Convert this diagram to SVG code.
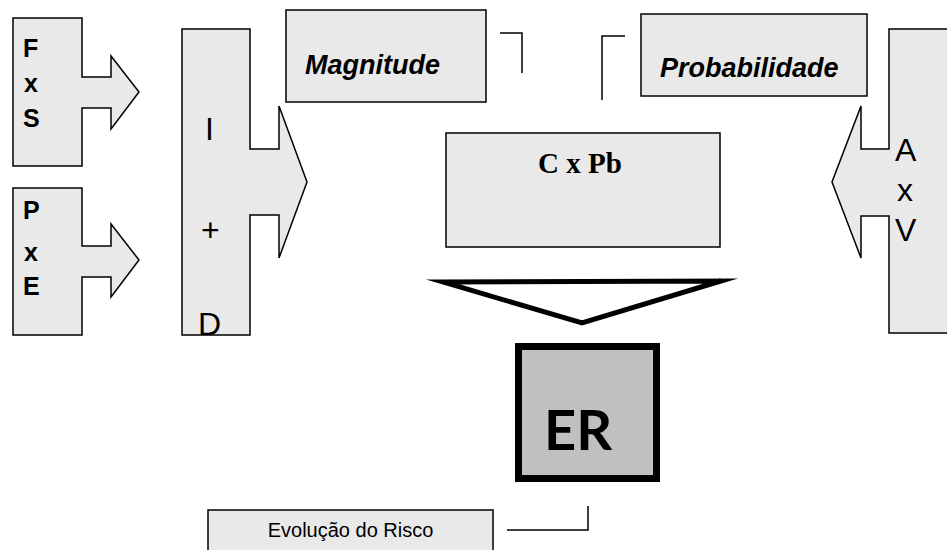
<svg xmlns="http://www.w3.org/2000/svg" width="947" height="550" viewBox="0 0 947 550">
<style>
.shp{fill:#e9e9e9;stroke:#000;stroke-width:1.5;stroke-linejoin:miter}
.ln{fill:none;stroke:#000;stroke-width:1.5}
.lb{font-family:"Liberation Sans",Arial,sans-serif;font-weight:bold;font-size:25px;fill:#000}
.lr{font-family:"Liberation Sans",Arial,sans-serif;font-size:32px;fill:#000}
.it{font-family:"Liberation Sans",Arial,sans-serif;font-weight:bold;font-style:italic;font-size:27px;fill:#000}
</style>
<rect width="947" height="550" fill="#fff"/>
<g id="fxs">
<polygon class="shp" points="13,18 82,18 82,77 111,77 111,56 139,92 111,129 111,108 82,108 82,166 13,166"/>
<text class="lb" x="23" y="57">F</text>
<text class="lb" x="24" y="92">x</text>
<text class="lb" x="23" y="127">S</text>
</g>
<g id="pxe">
<polygon class="shp" points="13,188 82,188 82,246 111,246 111,224 139,260 111,297 111,277 82,277 82,335 13,335"/>
<text class="lb" x="23" y="219">P</text>
<text class="lb" x="24" y="261">x</text>
<text class="lb" x="23" y="295">E</text>
</g>
<g id="id">
<polygon class="shp" points="182,29 250,29 250,149 279,149 279,106 307,182 279,258 279,215 250,215 250,335 182,335"/>
<text class="lr" x="205" y="140">I</text>
<text class="lr" x="201" y="241">+</text>
<text class="lr" x="198" y="335">D</text>
</g>
<g id="magnitude">
<rect class="shp" x="286" y="10" width="200" height="92"/>
<text class="it" x="305" y="74">Magnitude</text>
</g>
<g id="probabilidade">
<rect class="shp" x="641" y="14" width="226" height="82"/>
<text class="it" x="660" y="77">Probabilidade</text>
</g>
<g id="cxpb">
<rect class="shp" x="446" y="133" width="274" height="114"/>
<text x="538" y="173" font-family="'Liberation Serif','Times New Roman',serif" font-weight="bold" font-size="29">C x Pb</text>
</g>
<g id="axv">
<polygon class="shp" points="952,29 889,29 889,149 861,149 861,106 832,182 861,258 861,216 889,216 889,333 952,333"/>
<text class="lr" x="895" y="161">A</text>
<text class="lr" x="897" y="201">x</text>
<text class="lr" x="895" y="241">V</text>
</g>
<g id="triangle">
<polygon points="443,282 721,281 582,323" fill="#fff" stroke="#000" stroke-width="5" stroke-miterlimit="12"/>
</g>
<g id="er">
<rect x="518.5" y="346.5" width="138" height="132" fill="#c0c0c0" stroke="#000" stroke-width="7"/>
<text x="544" y="450" font-family="Lato,'Liberation Sans',sans-serif" font-weight="bold" font-size="56">ER</text>
</g>
<g id="evolucao">
<rect class="shp" x="208" y="510" width="285" height="60"/>
<text x="350.5" y="537" text-anchor="middle" font-family="'Liberation Sans',Arial,sans-serif" font-size="20">Evolução do Risco</text>
</g>
<g id="connectors">
<polyline class="ln" points="500,33 522,33 522,73"/>
<polyline class="ln" points="602,100 602,36 625,36"/>
<polyline class="ln" points="507,530 588,530 588,506"/>
</g>
</svg>
